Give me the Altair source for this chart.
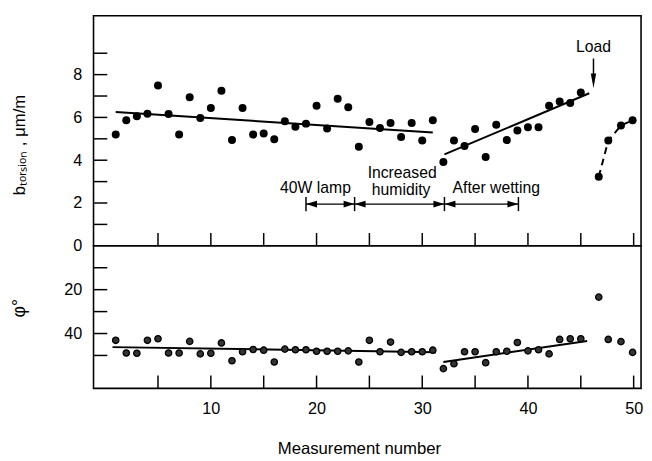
import altair as alt
import pandas as pd

# ---------------- data ----------------
meas = list(range(1, 46))
b_main = [5.20, 5.87, 6.05, 6.17, 7.49, 6.16, 5.20, 6.94, 5.97, 6.44,
          7.25, 4.94, 6.44, 5.20, 5.25, 4.98, 5.82, 5.56, 5.71, 6.54,
          5.48, 6.87, 6.47, 4.63, 5.79, 5.51, 5.74, 5.08, 5.74, 4.92,
          5.87, 3.92, 4.92, 4.66, 5.46, 4.15, 5.66, 4.94, 5.39, 5.54,
          5.54, 6.54, 6.74, 6.67, 7.16]
phi_main = [43.1, 48.9, 49.0, 43.1, 42.4, 48.9, 48.9, 43.6, 49.3, 49.0,
            44.3, 52.4, 48.3, 47.3, 47.6, 53.0, 47.1, 47.4, 47.4, 48.1,
            48.1, 48.1, 47.9, 53.0, 43.1, 48.3, 43.9, 48.6, 48.3, 48.3,
            47.6, 56.0, 53.8, 48.3, 48.3, 53.3, 48.3, 48.1, 44.1, 47.9,
            47.4, 49.3, 42.7, 42.4, 42.4]
meas_load = [46.7, 47.6, 48.8, 49.9]
b_load = [3.23, 4.92, 5.62, 5.87]
phi_load = [23.4, 42.7, 43.7, 48.6]

b_fit_n = [[1.0, 31.0], [32.1, 45.8]]
b_fit_v = [[6.25, 5.30], [4.27, 7.13]]
phi_fit_n = [[0.7, 31.3], [32.0, 45.6]]
phi_fit_v = [[46.2, 48.5], [53.0, 43.4]]

interval_edges = [19.0, 23.6, 32.1, 39.1]
interval_level = 1.95
interval_bar = [1.62, 2.28]
note_text = ["40W lamp", "Increased", "humidity", "After wetting"]
note_n = [19.9, 28.1, 28.0, 37.0]
note_v = [2.70, 3.40, 2.60, 2.70]

load_n = 46.2
load_text_v = 9.3
load_arrow_top = 8.75
load_arrow_tip = 7.36

x_tick_vals = [5, 10, 15, 20, 25, 30, 35, 40, 45, 50]
x_label_vals = [10, 20, 30, 40, 50]
b_tick_vals = [1, 2, 3, 4, 5, 6, 7, 8, 9]
b_label_vals = [0, 2, 4, 6, 8]
phi_tick_vals = [10, 20, 30, 40, 50]
phi_label_vals = [20, 40]

FONT = "Liberation Sans"
W, HT, HB = 557, 234, 145
YTICK, XTICK = 14, 13
LABEL_FS, NOTE_FS, TITLE_FS = 16.5, 16, 17

# ---------------- frames ----------------
df_b = pd.DataFrame({"n": meas + meas_load, "v": b_main + b_load})
df_bload = pd.DataFrame({"n": meas_load, "v": b_load})
df_p = pd.DataFrame({"n": meas + meas_load, "v": phi_main + phi_load})


def fit_df(ns, vs):
    rows = []
    for i, (nn, vv) in enumerate(zip(ns, vs)):
        for a, b in zip(nn, vv):
            rows.append({"n": a, "v": b, "seg": i})
    return pd.DataFrame(rows)


df_bfit = fit_df(b_fit_n, b_fit_v)
df_pfit = fit_df(phi_fit_n, phi_fit_v)

xscale = alt.Scale(domain=[-1.1, 50.7], nice=False, zero=False)
bscale = alt.Scale(domain=[0, 10.75], nice=False, zero=False)
pscale = alt.Scale(domain=[0, 65], nice=False, zero=False, reverse=True)

x_none = alt.X("n:Q", scale=xscale, axis=None)
x_bot = alt.X("n:Q", scale=xscale, axis=alt.Axis(
    values=x_label_vals, ticks=False, domain=False, grid=False,
    labelPadding=13, labelFontSize=LABEL_FS, labelFlush=False,
    title="Measurement number", titleFontSize=TITLE_FS, titleFontWeight="normal",
    titleX=270, titleY=53, titleBaseline="top"))
y_top = alt.Y("v:Q", scale=bscale, axis=alt.Axis(
    values=b_label_vals, ticks=False, domain=False, grid=False,
    labelPadding=12, labelFontSize=LABEL_FS, labelFlush=False,
    title="bₜₒᵣₛᵢₒₙ , μm/m", titleFontSize=TITLE_FS, titleFontWeight="normal",
    titleX=-66, titleY=131))
y_bot = alt.Y("v:Q", scale=pscale, axis=alt.Axis(
    values=phi_label_vals, ticks=False, domain=False, grid=False,
    labelPadding=12, labelFontSize=LABEL_FS, labelFlush=False,
    title="φ°", titleFontSize=18, titleFontWeight="normal",
    titleX=-66, titleY=63))

ARROW_L = "M0,0L1,-0.3L1,0.3Z"
ARROW_R = "M0,0L-1,-0.3L-1,0.3Z"
ARROW_D = "M0,0L-0.18,-1L0.18,-1Z"

# ---------------- top panel ----------------
t_pts = alt.Chart(df_b).mark_circle(size=66, color="black", opacity=1).encode(x=x_none, y=y_top)
t_fit = alt.Chart(df_bfit).mark_line(color="black", strokeWidth=2).encode(x=x_none, y=y_top, detail="seg:N")
t_dash = alt.Chart(df_bload).mark_line(color="black", strokeWidth=2, strokeDash=[7, 5]).encode(x=x_none, y=y_top)
t_lt = alt.Chart(pd.DataFrame({"v": b_tick_vals})).mark_rule(color="black", strokeWidth=1.5).encode(
    y=y_top, x=alt.value(0), x2=alt.value(YTICK))
t_bt = alt.Chart(pd.DataFrame({"n": x_tick_vals})).mark_rule(color="black", strokeWidth=1.5).encode(
    x=x_none, y=alt.value(HT), y2=alt.value(HT - XTICK))

int_line = alt.Chart(pd.DataFrame({"n": [interval_edges[0]], "n2": [interval_edges[-1]], "v": [interval_level]})).mark_rule(
    color="black", strokeWidth=1.3).encode(x=x_none, x2="n2:Q", y=y_top)
int_bars = alt.Chart(pd.DataFrame({"n": interval_edges, "v": [interval_bar[0]] * 4, "v2": [interval_bar[1]] * 4})).mark_rule(
    color="black", strokeWidth=1.5).encode(x=x_none, y=y_top, y2="v2:Q")
arr_l = alt.Chart(pd.DataFrame({"n": interval_edges[:3], "v": [interval_level] * 3})).mark_point(
    shape=ARROW_L, filled=True, size=500, color="black", opacity=1).encode(x=x_none, y=y_top)
arr_r = alt.Chart(pd.DataFrame({"n": interval_edges[1:], "v": [interval_level] * 3})).mark_point(
    shape=ARROW_R, filled=True, size=500, color="black", opacity=1).encode(x=x_none, y=y_top)
notes = alt.Chart(pd.DataFrame({"n": note_n, "v": note_v, "t": note_text})).mark_text(
    font=FONT, fontSize=NOTE_FS, color="black").encode(x=x_none, y=y_top, text="t:N")

load_txt = alt.Chart(pd.DataFrame({"n": [load_n], "v": [load_text_v], "t": ["Load"]})).mark_text(
    font=FONT, fontSize=NOTE_FS, color="black").encode(x=x_none, y=y_top, text="t:N")
load_rule = alt.Chart(pd.DataFrame({"n": [load_n], "v": [load_arrow_top], "v2": [load_arrow_tip + 0.5]})).mark_rule(
    color="black", strokeWidth=1.5).encode(x=x_none, y=y_top, y2="v2:Q")
load_head = alt.Chart(pd.DataFrame({"n": [load_n], "v": [load_arrow_tip]})).mark_point(
    shape=ARROW_D, filled=True, size=900, color="black", opacity=1).encode(x=x_none, y=y_top)

top = alt.layer(t_lt, t_bt, t_fit, t_dash, t_pts, int_line, int_bars, arr_l, arr_r, notes,
                load_txt, load_rule, load_head).properties(width=W, height=HT)

# ---------------- bottom panel ----------------
b_pts = alt.Chart(df_p).mark_point(shape="circle", filled=True, size=42, fill="#333", stroke="black",
                                   strokeWidth=1.3, opacity=1).encode(x=x_bot, y=y_bot)
b_fit = alt.Chart(df_pfit).mark_line(color="black", strokeWidth=2).encode(x=x_bot, y=y_bot, detail="seg:N")
b_lt = alt.Chart(pd.DataFrame({"v": phi_tick_vals})).mark_rule(color="black", strokeWidth=1.5).encode(
    y=y_bot, x=alt.value(0), x2=alt.value(YTICK))
b_bt = alt.Chart(pd.DataFrame({"n": x_tick_vals})).mark_rule(color="black", strokeWidth=1.5).encode(
    x=x_bot, y=alt.value(HB), y2=alt.value(HB - XTICK))

bottom = alt.layer(b_lt, b_bt, b_fit, b_pts).properties(width=W, height=HB)

chart = alt.vconcat(top, bottom, spacing=0, bounds="flush").properties(
    padding={"left": 2, "top": 3, "right": 0, "bottom": 0}
).configure_view(stroke="black", strokeWidth=1.6).configure_axis(
    labelFont=FONT, titleFont=FONT, labelColor="black", titleColor="black"
)

chart.save("out.html", embed_options={"renderer": "svg", "actions": False})
